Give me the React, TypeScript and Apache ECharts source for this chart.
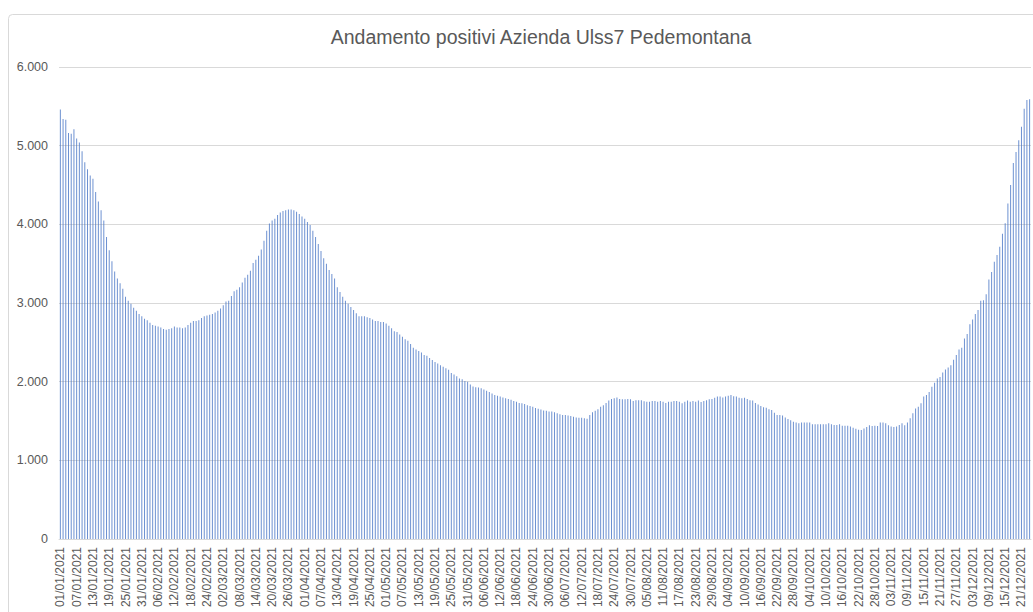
import React, { useEffect, useRef } from "react";
import * as echarts from "echarts";

// Daily positive counts, Azienda Ulss7 Pedemontana, 2021
const jan = [5460, 5340, 5330, 5160, 5150, 5210, 5090, 5040, 4930, 4790, 4700, 4620, 4580, 4410, 4290, 4180, 4050, 3840, 3670, 3530, 3400, 3310, 3250, 3180, 3080, 3030, 2990, 2940, 2900, 2860, 2830];
const feb = [2800, 2780, 2750, 2720, 2710, 2700, 2690, 2670, 2660, 2670, 2680, 2700, 2690, 2690, 2680, 2690, 2720, 2750, 2770, 2770, 2780, 2810, 2830, 2840, 2850, 2860, 2880, 2900];
const mar = [2930, 2970, 3020, 3030, 3090, 3150, 3170, 3200, 3260, 3320, 3360, 3410, 3510, 3550, 3600, 3680, 3790, 3920, 4010, 4050, 4070, 4120, 4150, 4170, 4180, 4190, 4190, 4180, 4160, 4130, 4100];
const apr = [4070, 4030, 3990, 3920, 3840, 3750, 3660, 3570, 3500, 3420, 3370, 3310, 3200, 3140, 3080, 3030, 2990, 2950, 2910, 2870, 2830, 2830, 2830, 2820, 2810, 2790, 2770, 2770, 2760, 2760];
const may = [2740, 2710, 2680, 2640, 2630, 2600, 2570, 2540, 2520, 2480, 2430, 2410, 2390, 2370, 2340, 2330, 2300, 2275, 2250, 2230, 2210, 2190, 2170, 2150, 2110, 2090, 2070, 2040, 2030, 2010, 2000];
const jun = [1965, 1940, 1930, 1925, 1915, 1900, 1885, 1870, 1850, 1830, 1820, 1810, 1800, 1790, 1780, 1770, 1755, 1745, 1730, 1725, 1715, 1700, 1690, 1680, 1665, 1655, 1645, 1635, 1630, 1620];
const jul = [1620, 1610, 1600, 1585, 1575, 1575, 1570, 1565, 1555, 1545, 1540, 1540, 1535, 1530, 1575, 1610, 1630, 1650, 1680, 1700, 1730, 1760, 1780, 1790, 1800, 1780, 1775, 1775, 1780, 1775, 1755];
const aug = [1765, 1765, 1765, 1750, 1745, 1745, 1755, 1755, 1745, 1755, 1745, 1730, 1745, 1745, 1755, 1755, 1745, 1725, 1745, 1760, 1745, 1755, 1745, 1760, 1740, 1755, 1765, 1775, 1780, 1795, 1810];
const sep = [1810, 1800, 1810, 1820, 1830, 1815, 1810, 1795, 1790, 1795, 1780, 1765, 1760, 1730, 1710, 1690, 1675, 1670, 1650, 1640, 1605, 1575, 1575, 1570, 1545, 1525, 1510, 1490, 1480, 1470];
const oct = [1480, 1480, 1480, 1480, 1460, 1460, 1460, 1460, 1460, 1460, 1470, 1460, 1450, 1450, 1460, 1440, 1440, 1440, 1430, 1415, 1400, 1388, 1385, 1405, 1425, 1445, 1435, 1440, 1435, 1480, 1480];
const nov = [1470, 1445, 1430, 1425, 1430, 1450, 1470, 1445, 1480, 1535, 1600, 1660, 1680, 1725, 1810, 1830, 1870, 1935, 1985, 2040, 2060, 2115, 2155, 2180, 2210, 2280, 2340, 2410, 2430, 2550];
const dec = [2605, 2730, 2790, 2860, 2910, 3030, 3035, 3110, 3300, 3395, 3525, 3610, 3715, 3880, 4015, 4265, 4500, 4780, 4920, 5070, 5240, 5470, 5580, 5590];

const months = [jan, feb, mar, apr, may, jun, jul, aug, sep, oct, nov, dec];
const values: number[] = months.flat();

// Category labels dd/mm/2021, one per value
const categories: string[] = [];
months.forEach((m, mi) => {
  m.forEach((_, di) => {
    const dd = String(di + 1).padStart(2, "0");
    const mm = String(mi + 1).padStart(2, "0");
    categories.push(`${dd}/${mm}/2021`);
  });
});

const yTicks = [0, 1000, 2000, 3000, 4000, 5000, 6000];
const title = "Andamento positivi Azienda Ulss7 Pedemontana";

export default function App() {
  const ref = useRef<HTMLDivElement>(null);
  useEffect(() => {
    if (!ref.current) return;
    const chart = echarts.init(ref.current, null, { renderer: "svg" });
    const font = "'Liberation Sans', 'DejaVu Sans', sans-serif";
    const dayW = 2.715;
    const plotW = values.length * dayW;
    chart.setOption({
      animation: false,
      backgroundColor: "#ffffff",
      textStyle: { fontFamily: font },
      grid: { left: 59, top: 67, width: plotW, bottom: 73, containLabel: false },
      graphic: [
        {
          type: "rect",
          silent: true,
          z: -10,
          shape: { x: 8.5, y: 14.5, width: 1200, height: 800, r: 4 },
          style: { fill: "none", stroke: "#d9d9d9", lineWidth: 1 },
        },
        {
          type: "text",
          x: 541,
          y: 37,
          style: {
            text: title,
            fontSize: 19.5,
            fontFamily: font,
            fill: "#595959",
            textAlign: "center",
            textVerticalAlign: "middle",
          },
        },
      ],
      xAxis: {
        type: "category",
        data: categories,
        boundaryGap: true,
        axisTick: { show: false },
        axisLine: { lineStyle: { color: "#d9d9d9" } },
        axisLabel: {
          interval: 5,
          rotate: 90,
          fontSize: 12,
          color: "#595959",
          margin: 8,
          fontFamily: font,
        },
      },
      yAxis: {
        type: "value",
        min: yTicks[0],
        max: yTicks[yTicks.length - 1],
        interval: 1000,
        axisLine: { show: false },
        axisTick: { show: false },
        splitLine: { lineStyle: { color: "#d9d9d9", width: 1 } },
        axisLabel: {
          color: "#595959",
          fontSize: 12.5,
          margin: 11,
          fontFamily: font,
          formatter: (v: number) => (v === 0 ? "0" : `${v / 1000}.000`),
        },
      },
      series: [
        {
          type: "bar",
          data: values,
          barWidth: 1,
          itemStyle: { color: "#4472c4", opacity: 0.78 },
        },
      ],
    });
    return () => chart.dispose();
  }, []);
  return (
    <div
      ref={ref}
      style={{ position: "absolute", left: 0, top: 0, width: 1033, height: 612 }}
    />
  );
}
